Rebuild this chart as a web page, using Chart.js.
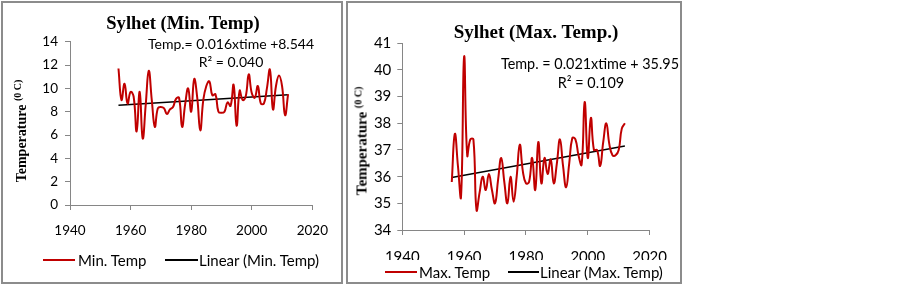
<!DOCTYPE html>
<html>
<head>
<meta charset="utf-8">
<script src="https://cdn.jsdelivr.net/npm/chart.js@4"></script>
<style>
  html, body { margin:0; padding:0; background:#fff; }
  body { width:903px; height:285px; position:relative; overflow:hidden; }
  .box { position:absolute; border:2px solid #8c8c8c; box-sizing:border-box; background:#fff; }
  canvas { position:absolute; }
  .ov { position:absolute; white-space:nowrap; color:#000; }
  .title { font-family:"Liberation Serif", serif; font-weight:bold; font-size:18.6px; text-align:center; width:400px; line-height:20px; }
  .ann { font-family:Lato, "Open Sans", sans-serif; text-align:center; width:300px; }
  .ytitle { font-family:"Liberation Serif", serif; font-weight:bold; font-size:14px; transform:translate(-50%,-50%) rotate(-90deg); line-height:16px; }
  .ytitle sup { font-size:10px; vertical-align:5px; }
  .leg { font-family:Lato, "Open Sans", sans-serif; font-size:15px; line-height:18px; }
  .legline { position:absolute; height:2px; }
</style>
</head>
<body>
<div class="box" style="left:1px;top:1px;width:342px;height:283px;"></div>
<div class="box" style="left:346px;top:1px;width:336px;height:283px;"></div>
<canvas id="c1" width="338" height="279" style="left:3px;top:3px;"></canvas>
<canvas id="c2" width="332" height="279" style="left:348px;top:3px;"></canvas>

<div class="ov title" style="left:-17px;top:13px;">Sylhet (Min. Temp)</div>
<div class="ov title" style="left:336px;top:22px;font-size:19px;">Sylhet (Max. Temp.)</div>

<div class="ov ann" style="left:81px;top:36px;font-size:14px;line-height:16px;">Temp.= 0.016xtime +8.544</div>
<div class="ov ann" style="left:81px;top:54px;font-size:14px;line-height:16px;">R² = 0.040</div>
<div class="ov ann" style="left:440px;top:55px;font-size:14.4px;line-height:17px;">Temp. = 0.021xtime + 35.95</div>
<div class="ov ann" style="left:441px;top:74px;font-size:14.4px;line-height:17px;">R² = 0.109</div>

<div class="ov ytitle" style="left:20px;top:131px;">Temperature <sup>(0 C)</sup></div>
<div class="ov ytitle" style="left:360px;top:141px;font-size:15px;">Temperature <sup>(0 C)</sup></div>

<div class="legline" style="left:43px;top:259px;width:32px;background:#c00000;"></div>
<div class="ov leg" style="left:78px;top:251px;">Min. Temp</div>
<div class="legline" style="left:165px;top:259px;width:33px;background:#000;"></div>
<div class="ov leg" style="left:199px;top:251px;">Linear (Min. Temp)</div>
<div class="legline" style="left:385px;top:271px;width:32px;background:#c00000;"></div>
<div class="ov leg" style="left:419px;top:263px;">Max. Temp</div>
<div class="legline" style="left:508px;top:271px;width:31px;background:#000;"></div>
<div class="ov leg" style="left:540px;top:263px;">Linear (Max. Temp)</div>

<script>
const years = [1956,1957,1958,1959,1960,1961,1962,1963,1964,1965,
  1966,1967,1968,1969,1970,1971,1972,1973,1974,1975,
  1976,1977,1978,1979,1980,1981,1982,1983,1984,1985,
  1986,1987,1988,1989,1990,1991,1992,1993,1994,1995,
  1996,1997,1998,1999,2000,2001,2002,2003,2004,2005,
  2006,2007,2008,2009,2010,2011,2012];
const minTemp = [11.7,9.0,10.4,8.7,9.7,9.3,6.3,9.7,5.7,8.6,
  11.5,9.0,6.7,8.3,8.4,8.3,7.8,8.2,8.4,9.1,
  9.2,6.7,8.6,10.0,8.0,10.8,9.2,6.4,9.0,10.2,
  10.6,9.4,9.5,8.0,7.9,8.0,8.8,8.5,10.3,6.8,
  9.8,9.0,9.3,11.2,9.6,9.2,10.2,8.7,8.7,10.0,
  11.6,8.2,10.2,11.1,10.2,7.7,9.5];
const maxTemp = [35.8,37.6,36.4,35.25,40.5,36.8,37.4,37.4,34.75,35.4,
  36.0,35.5,36.1,35.5,35.0,35.9,36.7,35.8,35.0,36.0,
  35.06,36.0,37.2,36.2,35.75,35.8,36.7,35.5,37.3,35.75,
  36.7,36.1,36.65,35.75,36.5,37.4,36.4,35.6,36.5,37.45,
  37.4,36.8,36.45,38.8,36.7,38.2,37.0,37.0,36.4,37.3,
  38.0,37.2,36.8,36.8,37.0,37.8,38.0];
const trendYears = [1956, 2012];
const minTrend = [8.56, 9.46];
const maxTrend = [35.97, 37.15];
const xTicks = [1940, 1960, 1980, 2000, 2020];
const minYTicks = [0, 2, 4, 6, 8, 10, 12, 14];
const maxYTicks = [34, 35, 36, 37, 38, 39, 40, 41];

const pts = (xs, ys) => xs.map((x, i) => ({x: x, y: ys[i]}));
const GRAY = '#868686';
const tickFont = 'Lato, "Open Sans", sans-serif';

function makeChart(id, series, trend, yTicks, opts) {
  new Chart(document.getElementById(id), {
    type: 'line',
    data: {
      datasets: [
        { data: pts(years, series), borderColor: '#c00000', borderWidth: 2, pointRadius: 0,
          tension: 0.45, fill: false },
        { data: pts(trendYears, trend), borderColor: '#000', borderWidth: 1.5, pointRadius: 0,
          tension: 0, fill: false }
      ]
    },
    options: {
      responsive: false, animation: false, devicePixelRatio: 1,
      layout: { padding: opts.padding },
      plugins: { legend: { display: false }, title: { display: false }, tooltip: { enabled: false } },
      scales: {
        x: {
          type: 'linear', min: xTicks[0], max: xTicks[xTicks.length - 1],
          afterBuildTicks: (ax) => { ax.ticks = xTicks.map(v => ({value: v})); },
          afterFit: (ax) => { ax.height = 30; },
          ticks: { color: '#000', font: { family: tickFont, size: opts.fs }, padding: opts.xp, maxRotation: 0,
                   callback: (v) => String(v) },
          grid: { drawOnChartArea: false, drawTicks: true, tickLength: 5, color: GRAY },
          border: { color: GRAY, width: 1 }
        },
        y: {
          min: yTicks[0], max: yTicks[yTicks.length - 1],
          afterBuildTicks: (ax) => { ax.ticks = yTicks.map(v => ({value: v})); },
          afterFit: (ax) => { ax.width = opts.yw; },
          ticks: { color: '#000', font: { family: tickFont, size: opts.fs }, padding: opts.yp,
                   callback: (v) => String(v) },
          grid: { drawOnChartArea: false, drawTicks: true, tickLength: 5, color: GRAY },
          border: { color: GRAY, width: 1 }
        }
      }
    }
  });
}

makeChart('c1', minTemp, minTrend, minYTicks,
  { padding: { left: 0, right: 25, top: 38.7, bottom: 47 }, yw: 67, fs: 13.5, yp: 7, xp: 13 });
makeChart('c2', maxTemp, maxTrend, maxYTicks,
  { padding: { left: 0, right: 23.3, top: 40.3, bottom: 22 }, yw: 54.3, fs: 15, yp: 6, xp: 13 });
</script>
</body>
</html>
